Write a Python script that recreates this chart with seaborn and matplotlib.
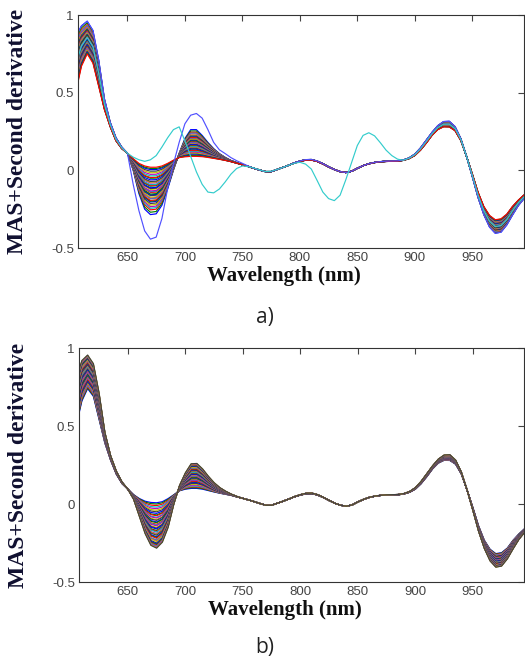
import numpy as np
import pandas as pd
import matplotlib
matplotlib.use('Agg')
import matplotlib.pyplot as plt
import seaborn as sns

# wavelength grid (nm)
WL = np.arange(605, 1000, 5)

# panel a) family envelopes, 605..765 nm (read from the picture)
HEAD_A_HIGH = [0.86, 0.93, 0.96, 0.90, 0.71, 0.46, 0.31, 0.21, 0.15, 0.11,
               0.0, -0.15, -0.25, -0.285, -0.28, -0.225, -0.12, 0.0, 0.11, 0.205,
               0.262, 0.262, 0.225, 0.18, 0.14, 0.108, 0.084, 0.064, 0.05, 0.036,
               0.025, 0.013, 0.002]
HEAD_A_LOW = [0.50, 0.67, 0.75, 0.69, 0.54, 0.39, 0.28, 0.19, 0.14, 0.11,
              0.075, 0.045, 0.028, 0.02, 0.02, 0.028, 0.045, 0.065, 0.082, 0.087,
              0.09, 0.09, 0.088, 0.083, 0.077, 0.071, 0.064, 0.056, 0.046, 0.036,
              0.025, 0.013, 0.002]

# panel b) family envelopes, 605..765 nm
HEAD_B_HIGH = [0.80, 0.92, 0.955, 0.90, 0.71, 0.46, 0.31, 0.21, 0.14, 0.095,
               0.03, -0.08, -0.19, -0.265, -0.283, -0.245, -0.15, 0.0, 0.12, 0.2,
               0.258, 0.26, 0.225, 0.178, 0.137, 0.105, 0.082, 0.063, 0.048, 0.036,
               0.026, 0.015, 0.003]
HEAD_B_LOW = [0.50, 0.66, 0.74, 0.69, 0.54, 0.39, 0.28, 0.19, 0.13, 0.095,
              0.06, 0.035, 0.018, 0.01, 0.008, 0.015, 0.035, 0.06, 0.085, 0.095,
              0.1, 0.1, 0.095, 0.086, 0.077, 0.069, 0.062, 0.055, 0.045, 0.036,
              0.026, 0.015, 0.003]

# shared tail 770..995 nm (both panels)
TAIL_HIGH = [-0.008, -0.008, 0.005, 0.018, 0.032, 0.048, 0.06, 0.069, 0.07, 0.06,
             0.043, 0.023, 0.005, -0.008, -0.014, -0.006, 0.013, 0.03, 0.043, 0.051,
             0.056, 0.059, 0.06, 0.061, 0.067, 0.08, 0.105, 0.145, 0.195, 0.245,
             0.288, 0.314, 0.316, 0.282, 0.205, 0.09, -0.04, -0.175, -0.285, -0.365,
             -0.405, -0.398, -0.352, -0.288, -0.228, -0.182]
TAIL_LOW = [-0.008, -0.008, 0.005, 0.018, 0.032, 0.046, 0.057, 0.065, 0.066, 0.057,
            0.041, 0.022, 0.005, -0.008, -0.014, -0.006, 0.013, 0.03, 0.042, 0.05,
            0.055, 0.057, 0.058, 0.059, 0.064, 0.075, 0.095, 0.13, 0.175, 0.225,
            0.262, 0.28, 0.279, 0.255, 0.192, 0.09, -0.022, -0.14, -0.232, -0.29,
            -0.318, -0.312, -0.282, -0.232, -0.192, -0.158]

# panel a) outliers, from 650 nm onward
BLUE_MID = [0.11, -0.09, -0.26, -0.39, -0.443, -0.43, -0.31, -0.115, 0.04, 0.18,
            0.30, 0.355, 0.366, 0.336, 0.262, 0.18, 0.132, 0.108, 0.082, 0.062,
            0.045, 0.028, 0.013, 0.002]
CYAN_MID = [0.11, 0.085, 0.068, 0.058, 0.068, 0.095, 0.15, 0.21, 0.262, 0.28,
            0.19, 0.09, -0.01, -0.09, -0.14, -0.145, -0.12, -0.075, -0.025, 0.012,
            0.028, 0.024, 0.015, 0.003, -0.008, -0.006, 0.005, 0.018, 0.032, 0.045,
            0.052, 0.04, 0.008, -0.065, -0.14, -0.182, -0.195, -0.16, -0.06, 0.05,
            0.16, 0.225, 0.242, 0.222, 0.178, 0.13, 0.095, 0.072, 0.065]

# trough value at 675 nm of each spectrum
TROUGH_A = [-0.28, -0.265, -0.25, -0.24, -0.23, -0.22, -0.21, -0.2, -0.195, -0.19,
            -0.18, -0.175, -0.17, -0.16, -0.155, -0.15, -0.14, -0.135, -0.13, -0.12,
            -0.115, -0.11, -0.1, -0.095, -0.09, -0.08, -0.075, -0.07, -0.06, -0.05,
            -0.045, -0.035, -0.025, -0.015, -0.005, 0.005, 0.012, 0.02]
TROUGH_B = [0.008, 0.0, -0.01, -0.02, -0.03, -0.04, -0.05, -0.06, -0.07, -0.075,
            -0.085, -0.09, -0.1, -0.105, -0.115, -0.12, -0.13, -0.135, -0.14, -0.15,
            -0.155, -0.16, -0.17, -0.175, -0.18, -0.19, -0.195, -0.2, -0.21, -0.215,
            -0.22, -0.23, -0.235, -0.24, -0.25, -0.255, -0.26, -0.265, -0.27, -0.275,
            -0.28, -0.283]

MATLAB = ['#0000ff', '#008000', '#ff0000', '#00bfbf', '#bf00bf', '#bfbf00', '#404040']


def family(high, low, troughs):
    # each spectrum sits between the two envelopes, placed by its trough depth
    i675 = list(WL).index(675)
    curves = []
    for t in troughs:
        f = (low[i675] - t) / (low[i675] - high[i675])
        curves.append(low + f * (high - low))
    return curves


def splice(base, mid):
    i650 = list(WL).index(650)
    out = base.copy()
    out[i650:i650 + len(mid)] = mid
    return out


high_a = np.array(HEAD_A_HIGH + TAIL_HIGH)
low_a = np.array(HEAD_A_LOW + TAIL_LOW)
high_b = np.array(HEAD_B_HIGH + TAIL_HIGH)
low_b = np.array(HEAD_B_LOW + TAIL_LOW)

curves_a = family(high_a, low_a, TROUGH_A)
colors_a = [MATLAB[i % 7] for i in range(len(curves_a))]
curves_a.append(splice(high_a, BLUE_MID))
colors_a.append('#5050ff')
curves_a.append(splice((high_a + low_a) / 2, CYAN_MID))
colors_a.append('#33cccc')

curves_b = family(high_b, low_b, TROUGH_B)
colors_b = [MATLAB[i % 7] for i in range(len(curves_b))]


def to_long(curves, tag):
    frames = [pd.DataFrame({'wl': WL, 'value': c, 'line': f'{tag}{i}'})
              for i, c in enumerate(curves)]
    return pd.concat(frames, ignore_index=True)


df_a = to_long(curves_a, 'a')
df_b = to_long(curves_b, 'b')

sns.set_theme(style='white')
plt.rcParams['font.family'] = ['Liberation Sans', 'DejaVu Sans']

fig = plt.figure(figsize=(5.25, 6.61), dpi=100)
ax_a = fig.add_axes([0.1486, 0.6248, 0.8495, 0.3525])
ax_b = fig.add_axes([0.1505, 0.1195, 0.8476, 0.354])

for ax, df, cols, xl in [(ax_a, df_a, colors_a, (607, 995)),
                         (ax_b, df_b, colors_b, (607.5, 994.5))]:
    pal = {name: c for name, c in zip(df['line'].unique(), cols)}
    sns.lineplot(data=df, x='wl', y='value', hue='line', palette=pal,
                 legend=False, linewidth=0.85, estimator=None, sort=False, ax=ax)
    ax.set_xlim(*xl)
    ax.set_ylim(-0.5, 1)
    ax.set_xticks([650, 700, 750, 800, 850, 900, 950])
    ax.set_yticks([-0.5, 0, 0.5, 1])
    ax.set_yticklabels(['-0.5', '0', '0.5', '1'])
    ax.tick_params(direction='in', top=True, right=True, length=4, width=0.8,
                   labelsize=9.5, colors='#444444', pad=3)
    for sp in ax.spines.values():
        sp.set_color('#333333')
        sp.set_linewidth(0.8)
    ax.set_ylabel('MAS+Second derivative', fontfamily='Liberation Serif',
                  fontweight='bold', fontsize=17, color='#101030')
    ax.yaxis.set_label_coords(-0.112, 0.5)
    ax.set_xlabel('Wavelength (nm)', fontfamily='Liberation Serif',
                  fontweight='bold', fontsize=15, color='#101010')
    ax.xaxis.set_label_coords(0.462, -0.078)

fig.text(265 / 525, 1 - 318 / 661, 'a)', ha='center', va='center',
         fontsize=15, color='#222222', fontfamily='Open Sans')
fig.text(265 / 525, 1 - 648 / 661, 'b)', ha='center', va='center',
         fontsize=15, color='#222222', fontfamily='Open Sans')

fig.savefig('out.png', dpi=100)
